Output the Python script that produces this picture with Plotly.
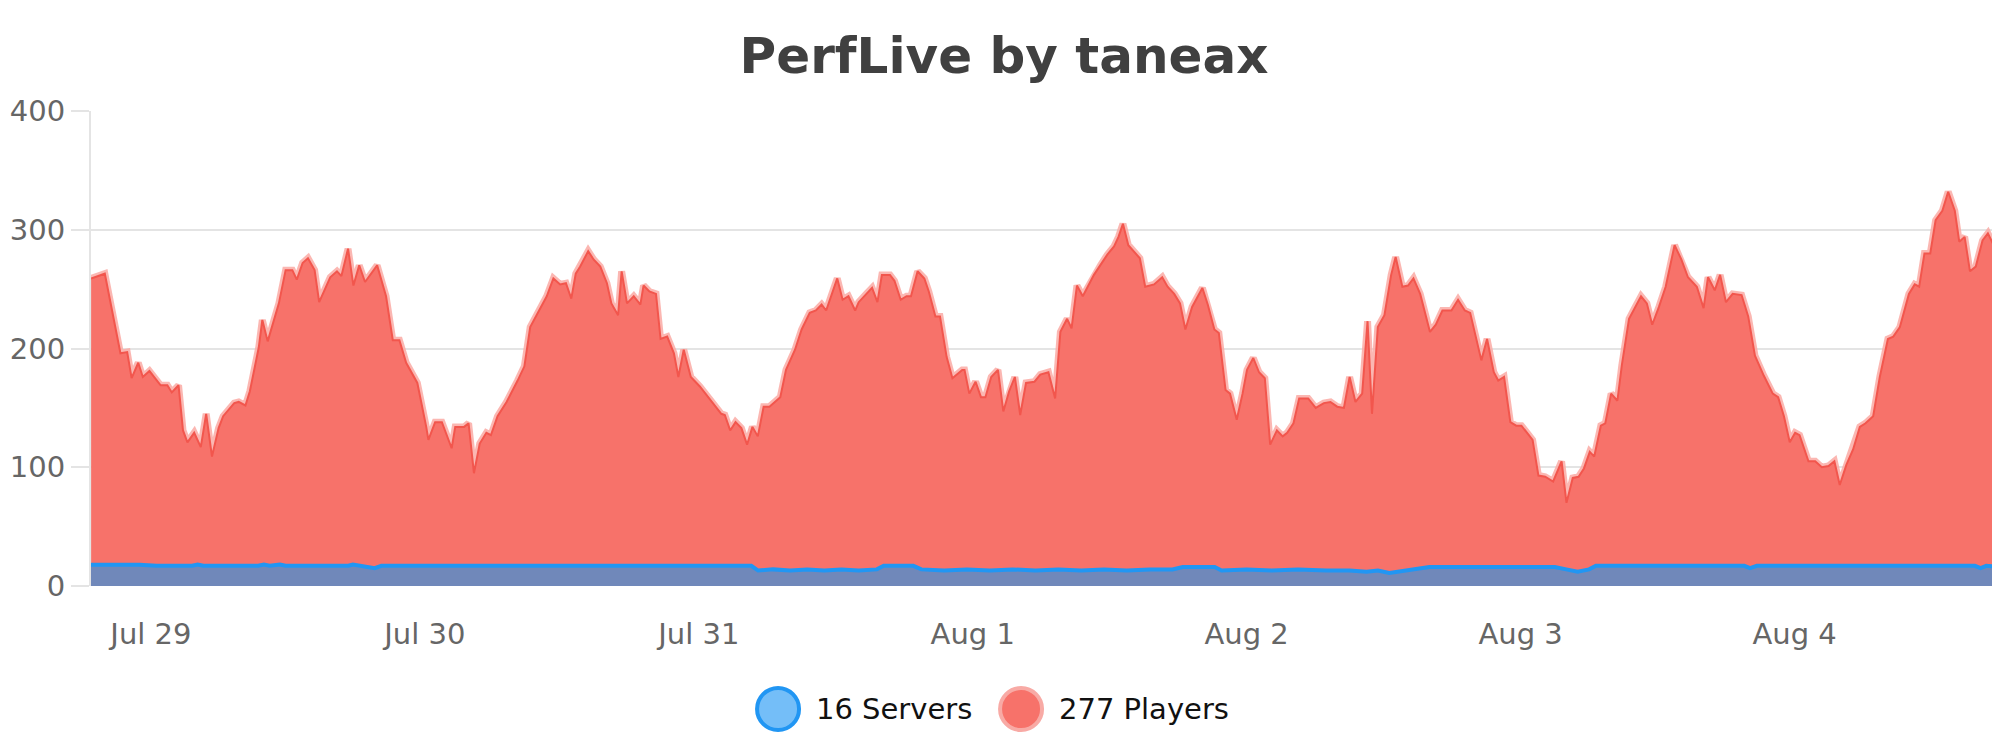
import pandas as pd
import plotly.graph_objects as go

# time of each reading, hours after Jul 29 00:00
player_hours = [
    -5.24, -4.04, -2.67, -2.08, -1.69, -1.11, -0.71, -0.13, 0.85, 1.44,
    1.83, 2.42, 2.81, 3.20, 3.79, 4.37, 4.84, 5.35, 5.93, 6.33,
    7.30, 7.69, 8.28, 8.67, 9.45, 9.76, 10.23, 11.21, 11.80, 12.39,
    12.78, 13.29, 13.76, 14.34, 14.74, 15.71, 16.30, 16.69, 17.27, 17.74,
    18.25, 18.76, 19.82, 20.60, 21.19, 21.77, 22.36, 23.34, 24.12, 24.31,
    24.90, 25.49, 26.35, 26.66, 27.44, 27.83, 28.30, 28.81, 29.39, 29.79,
    30.37, 31.16, 32.13, 32.72, 33.23, 34.09, 34.68, 35.26, 35.85, 36.36,
    36.83, 37.22, 37.61, 38.31, 38.78, 39.37, 39.95, 40.34, 40.93, 41.24,
    41.71, 42.30, 42.88, 43.16, 43.67, 44.25, 44.65, 45.23, 45.82, 46.21,
    46.68, 47.30, 48.09, 49.97, 50.28, 50.75, 51.22, 51.73, 52.23, 52.70,
    53.17, 53.68, 54.19, 55.14, 55.64, 56.43, 57.01, 57.72, 58.26, 58.76,
    59.16, 60.13, 60.60, 61.11, 61.70, 62.01, 62.68, 63.18, 63.65, 64.04,
    64.75, 65.14, 65.69, 66.20, 66.59, 67.17, 67.76, 68.15, 68.73, 69.13,
    69.71, 70.22, 71.08, 71.28, 71.70, 72.25, 72.72, 73.11, 73.62, 74.21,
    74.68, 75.19, 75.69, 76.16, 76.67, 77.41, 77.92, 78.63, 79.22, 79.68,
    80.27, 80.66, 81.13, 81.64, 82.62, 83.20, 83.79, 84.38, 84.77, 85.16,
    85.63, 86.64, 87.11, 87.89, 88.60, 89.07, 89.65, 90.16, 90.63, 91.22,
    92.12, 92.59, 93.17, 93.56, 94.15, 94.54, 95.13, 95.64, 96.03, 96.58,
    97.08, 97.59, 98.06, 98.65, 99.16, 99.55, 100.10, 100.60, 101.39, 102.05,
    102.76, 103.34, 103.93, 104.52, 105.02, 105.53, 106.12, 106.59, 106.98, 107.49,
    108.07, 108.66, 109.05, 109.64, 110.14, 110.61, 111.20, 112.06, 112.57, 113.15,
    113.94, 114.52, 115.11, 115.58, 116.09, 116.56, 117.06, 117.65, 118.04, 118.55,
    119.10, 119.61, 120.07, 120.58, 121.05, 121.56, 122.15, 122.85, 123.59, 124.02,
    124.57, 125.08, 125.55, 126.06, 126.45, 127.03, 127.42, 127.93, 128.48, 128.87,
    129.50, 130.05, 130.55, 131.06, 131.53, 132.12, 132.71, 133.49, 134.08, 134.66,
    135.44, 136.03, 136.42, 137.01, 137.48, 137.99, 138.58, 139.36, 139.94, 140.53,
    141.31, 142.09, 142.56, 143.07, 143.58, 144.05, 144.44, 145.22, 145.81, 146.39,
    146.98, 147.49, 147.96, 148.54, 149.13, 149.72, 150.22, 150.89, 151.47, 152.18,
    152.65, 153.23, 154.02, 154.53, 154.92, 155.38, 155.89, 156.36, 156.95, 157.46,
    158.04, 158.43, 158.90, 159.37, 159.88, 160.47, 160.94, 161.45, 161.96,
]
players = [
    259, 263, 196, 197, 175, 188, 176, 181, 169, 169,
    163, 169, 131, 121, 129, 117, 145, 109, 133, 143,
    154, 155, 152, 164, 201, 224, 206, 238, 266, 266,
    258, 272, 276, 266, 239, 260, 265, 261, 284, 253,
    270, 256, 270, 244, 207, 207, 188, 171, 134, 123,
    138, 138, 116, 134, 134, 137, 95, 120, 129, 127,
    143, 155, 173, 185, 218, 234, 244, 259, 254, 255,
    242, 263, 269, 282, 275, 269, 255, 238, 228, 265,
    238, 244, 237, 253, 248, 246, 208, 210, 196, 176,
    199, 176, 168, 145, 144, 131, 138, 133, 119, 134,
    126, 151, 151, 159, 182, 199, 216, 230, 232, 237,
    232, 259, 241, 244, 232, 239, 246, 251, 239, 262,
    262, 257, 241, 244, 244, 265, 259, 248, 227, 227,
    193, 175, 182, 182, 162, 172, 159, 159, 176, 182,
    147, 164, 176, 144, 171, 172, 178, 180, 158, 214,
    225, 217, 253, 244, 262, 270, 279, 286, 294, 305,
    287, 276, 252, 254, 260, 252, 246, 238, 216, 235,
    251, 237, 216, 213, 165, 162, 140, 162, 182, 192,
    180, 175, 119, 131, 126, 129, 137, 158, 158, 150,
    154, 155, 151, 150, 176, 155, 162, 223, 145, 218,
    228, 262, 277, 252, 253, 259, 246, 214, 220, 232,
    232, 241, 232, 230, 210, 190, 208, 180, 173, 176,
    138, 135, 135, 129, 123, 93, 92, 88, 105, 70,
    91, 92, 99, 113, 109, 135, 137, 162, 156, 186,
    225, 235, 244, 238, 220, 235, 252, 287, 275, 260,
    252, 234, 260, 249, 262, 239, 246, 245, 227, 194,
    177, 162, 159, 143, 121, 129, 127, 105, 105, 100,
    101, 105, 85, 102, 115, 134, 137, 143, 176, 208,
    210, 218, 246, 254, 252, 280, 280, 308, 316, 332,
    316, 290, 294, 265, 269, 291, 297, 287, 277,
]

server_hours = [
    -5.25, -1.0, 0.5, 3.6, 4.1, 4.6, 9.4, 9.9, 10.4, 11.3,
    11.8, 17.3, 17.7, 18.2, 19.6, 20.2, 52.6, 53.2, 54.5, 56.0,
    57.5, 59.0, 60.5, 62.0, 63.6, 64.2, 66.8, 67.5, 69.5, 71.5,
    73.5, 75.5, 77.5, 79.5, 81.5, 83.5, 85.5, 87.5, 89.5, 90.4,
    93.2, 93.8, 96.0, 98.2, 100.5, 103.0, 105.0, 106.5, 107.5, 108.5,
    110.0, 111.3, 112.0, 118.5, 123.0, 124.0, 125.0, 126.0, 126.6, 133.0,
    139.6, 140.1, 140.7, 150.0, 159.8, 160.3, 160.8, 161.96,
]
servers = [
    18, 18, 17, 17, 18, 17, 17, 18, 17, 18,
    17, 17, 18, 17, 15, 17, 17, 13, 14, 13,
    14, 13, 14, 13, 14, 17, 17, 14, 13, 14,
    13, 14, 13, 14, 13, 14, 13, 14, 14, 16,
    16, 13, 14, 13, 14, 13, 13, 12, 13, 11,
    13, 15, 16, 16, 16, 14, 12, 14, 17, 17,
    17, 15, 17, 17, 17, 15, 17, 16,
]

day_zero = pd.Timestamp("2023-07-29")
x_start_hours = -5.25
x_end_hours = 162.0

font = "DejaVu Sans"
grid = "#e4e4e4"

player_times = day_zero + pd.to_timedelta(player_hours, unit="h")
server_times = day_zero + pd.to_timedelta(server_hours, unit="h")

fig = go.Figure()

# soft glow under the players line
fig.add_trace(go.Scatter(
    x=player_times, y=players, mode="lines",
    line=dict(color="rgba(250,170,165,0.85)", width=7),
    hoverinfo="skip",
))
fig.add_trace(go.Scatter(
    x=player_times, y=players, mode="lines", name="Players",
    fill="tozeroy", fillcolor="#f7726a",
    line=dict(color="#f2564d", width=2),
))
fig.add_trace(go.Scatter(
    x=server_times, y=servers, mode="lines", name="Servers",
    fill="tozeroy", fillcolor="#7088ba",
    line=dict(color="#2196f3", width=4),
))

# legend drawn by hand so the round markers can be large
legend_y = -0.259
shapes = [
    dict(type="circle", xref="paper", yref="paper", xsizemode="pixel", ysizemode="pixel",
         xanchor=0.3599, yanchor=legend_y, x0=-21, x1=21, y0=-21, y1=21,
         fillcolor="#74bef8", line=dict(color="#2196f3", width=4)),
    dict(type="circle", xref="paper", yref="paper", xsizemode="pixel", ysizemode="pixel",
         xanchor=0.4872, yanchor=legend_y, x0=-21, x1=21, y0=-21, y1=21,
         fillcolor="#f7726a", line=dict(color="#f8aaa5", width=4)),
]
annotations = [
    dict(text=f"{servers[-1]} Servers", x=0.3787, y=legend_y, xref="paper", yref="paper",
         xanchor="left", yanchor="middle", showarrow=False,
         font=dict(family=font, size=29, color="#111")),
    dict(text=f"{players[-1]} Players", x=0.5060, y=legend_y, xref="paper", yref="paper",
         xanchor="left", yanchor="middle", showarrow=False,
         font=dict(family=font, size=29, color="#111")),
]

# the page body adds 8px on the left and top, so the figure is 8px smaller
fig.update_layout(
    width=1992, height=742,
    margin=dict(l=83, r=0, t=103, b=164),
    paper_bgcolor="white", plot_bgcolor="white",
    showlegend=False,
    title=dict(text="PerfLive by taneax", x=0.5, xanchor="center", xref="container",
               y=0.936, yanchor="middle", yref="container",
               font=dict(family=font, size=50, weight="bold", color="#404040")),
    font=dict(family=font),
    shapes=shapes,
    annotations=annotations,
)
fig.update_xaxes(
    type="date",
    range=[day_zero + pd.Timedelta(hours=x_start_hours), day_zero + pd.Timedelta(hours=x_end_hours)],
    tick0=day_zero, dtick=86400000, tickformat="%b %-d",
    showgrid=False, zeroline=False, showline=False, ticks="",
    ticklabelstandoff=28,
    tickfont=dict(family=font, size=29, color="#666"),
)
fig.update_yaxes(
    range=[0, 400], dtick=100,
    showgrid=True, gridcolor=grid, gridwidth=2,
    showline=True, linecolor=grid, linewidth=2,
    ticks="outside", ticklen=18, tickcolor=grid, tickwidth=2,
    zeroline=False,
    tickfont=dict(family=font, size=29, color="#666"),
)

fig.write_html("out.html")
